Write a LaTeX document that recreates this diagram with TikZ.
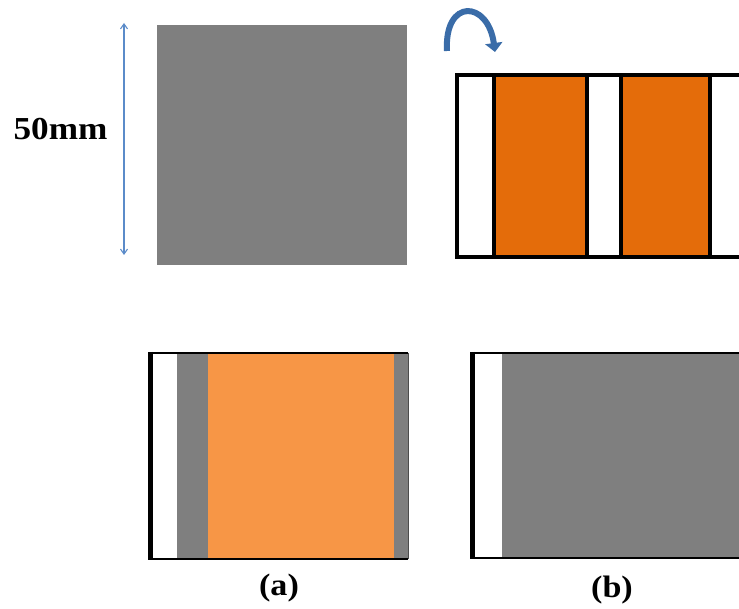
\documentclass[tikz,border=0pt]{standalone}
\usepackage{fontspec}
\setmainfont{Liberation Serif}
\usetikzlibrary{arrows.meta}
\definecolor{slab}{HTML}{7F7F7F}
\definecolor{darkorange}{HTML}{E46C0A}
\definecolor{lightorange}{HTML}{F79646}
\definecolor{dimblue}{HTML}{5B8BC9}
\definecolor{rotblue}{HTML}{3A6CA8}
\tikzset{
  label text/.style={font=\bfseries\fontsize{31}{31}\selectfont, inner sep=0pt},
  outline/.style={draw=black, line width=3.4pt},
  divider/.style={draw=black, line width=3.2pt},
}
\begin{document}
\begin{tikzpicture}[x=1pt,y=-1pt]
\useasboundingbox (0,0) rectangle (739,609);
\clip (0,0) rectangle (739,609);

% plain grey square with its 50 mm dimension
\fill[slab] (157,25) rectangle (407,265);
\coordinate (dimtop) at (124,23);
\coordinate (dimbot) at (124,255);
\draw[dimblue, line width=1.1pt, {Straight Barb[length=5pt,width=7pt]}-{Straight Barb[length=5pt,width=7pt]}] (dimtop) -- (dimbot);
\node[label text, font=\bfseries\fontsize{32}{32}\selectfont] (dimlabel) at (60.5,129) {\scalebox{1.1}[1]{50mm}};

% rotation arrow
\coordinate (rotstart) at (447,51);
\coordinate (rotend) at (495,52);
\draw[rotblue, line width=6pt, -{Triangle[length=9pt,width=17pt]}] (rotstart) .. controls (444,-2) and (488,0) .. (rotend);

% striped strip: white / orange / white / orange / white
\fill[white] (457,75) rectangle (760,257);
\fill[darkorange] (494,75) rectangle (587,257);
\fill[darkorange] (621,75) rectangle (710,257);
\draw[outline] (760,75) -- (457,75) -- (457,257) -- (760,257);
\foreach \xd in {494,587,621,710} {
  \draw[divider] (\xd,75) -- (\xd,257);
}

% (a) sandwich
\fill[white] (149,353) rectangle (177,559);
\fill[slab] (177,353) rectangle (208,559);
\fill[lightorange] (208,353) rectangle (394,559);
\fill[slab] (394,353) rectangle (408,559);
\draw[black, line width=2.6pt] (408,353) -- (149,353) (149,559) -- (408,559);
\draw[black, line width=4.4pt] (150.5,352) -- (150.5,560);
\draw[black!70, line width=0.8pt] (408,353) -- (408,559);
\node[label text] (laba) at (279,588) {\scalebox{1.1}[1]{(a)}};

% (b) sandwich
\fill[white] (471,353) rectangle (502,558);
\fill[slab] (502,353) rectangle (760,558);
\draw[black, line width=2.6pt] (760,353) -- (471,353) (471,558) -- (760,558);
\draw[black, line width=4.4pt] (472.5,352) -- (472.5,559);
\node[label text] (labb) at (612,590) {\scalebox{1.1}[1]{(b)}};
\end{tikzpicture}
\end{document}
